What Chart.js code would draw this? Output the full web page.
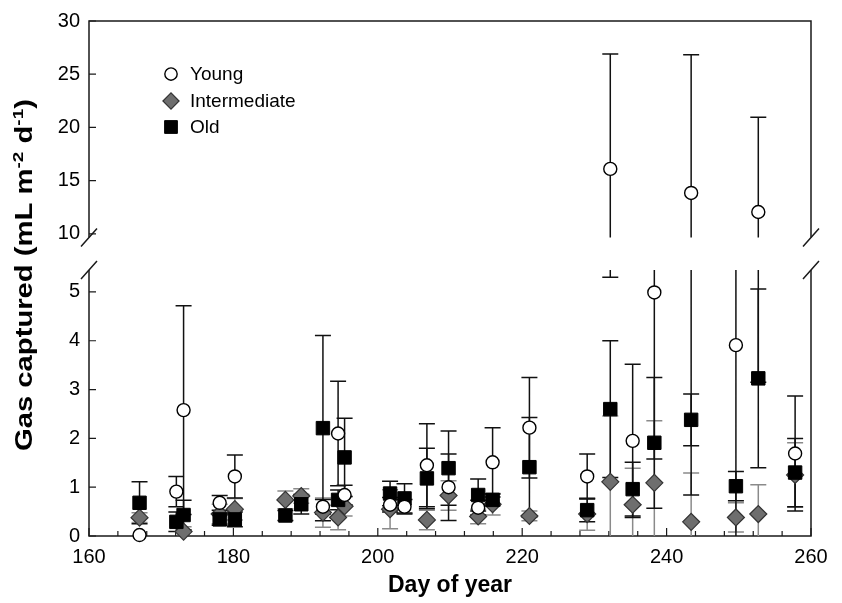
<!DOCTYPE html>
<html>
<head>
<meta charset="utf-8">
<title>Gas captured</title>
<script src="https://cdn.jsdelivr.net/npm/chart.js@4.4.1/dist/chart.umd.min.js"></script>
<style>
  html, body { margin: 0; padding: 0; background: #fff; }
  #wrap { width: 842px; height: 603px; position: relative; }
</style>
</head>
<body>
<div id="wrap"><canvas id="gas-chart"></canvas></div>
<script>
// Sampling days (day of year)
var days = [167, 172.1, 173.1, 178.1, 180.2, 187.2, 189.4, 192.4, 194.5, 195.4, 201.7, 203.7, 206.8,
            209.8, 213.9, 215.9, 221, 229, 232.2, 235.3, 238.3, 243.4, 249.6, 252.7, 257.8];

// Gas captured (mL m-2 d-1), mean and error per series, null = no point
var youngMean = [0.02, 0.91, 2.58, 0.68, 1.22, null, null, 0.60, 2.10, 0.84, 0.64, 0.60, 1.45,
                 1.00, 0.58, 1.51, 2.22, 1.22, 16.1, 1.95, 4.99, 13.84, 3.91, 12.05, 1.69];
var youngErr  = [0, 0.31, 2.14, 0.15, 0.44, null, null, 0.15, 1.07, 0.2, 0.15, 0.15, 0.85,
                 0.68, 0.15, 0.71, 1.03, 0.46, 10.8, 1.57, 3.41, 13.0, 4.2, 8.9, 1.18];

var interMean = [0.375, null, 0.09, 0.45, 0.55, 0.74, 0.82, 0.48, 0.38, 0.61, 0.55, null, 0.33,
                 0.83, 0.40, 0.65, 0.41, 0.45, 1.11, 0.64, 1.09, 0.29, 0.38, 0.45, 1.25];
var interErr  = [0.1, null, 0.1, 0.2, 0.22, 0.18, 0.15, 0.3, 0.25, 0.2, 0.4, null, 0.2,
                 0.3, 0.15, 0.22, 0.1, 0.33, 1.35, 0.75, 1.27, 1.0, 0.3, 0.6, 0.66];

var oldMean = [0.68, 0.29, 0.43, 0.34, 0.34, 0.42, 0.65, 2.21, 0.74, 1.61, 0.87, 0.77, 1.18,
               1.39, 0.84, 0.74, 1.41, 0.53, 2.6, 0.96, 1.91, 2.38, 1.02, 3.23, 1.3];
var oldErr  = [0.43, 0.2, 0.3, 0.12, 0.15, 0.1, 0.2, 1.9, 0.2, 0.8, 0.25, 0.3, 0.62,
               0.76, 0.33, 0.12, 1.02, 0.24, 1.4, 0.55, 1.34, 0.53, 0.3, 1.83, 0.7];

var seriesNames = ["Young", "Intermediate", "Old"];

// Tick labels
var xTicks = [160, 180, 200, 220, 240, 260];
var lowerTicks = [0, 1, 2, 3, 4, 5];
var upperTicks = [10, 15, 20, 25, 30];

// Broken y axis: lower panel 0..lowerTop, upper panel upperBottom..30
var lowerTop = 5.45;
var upperBottom = 9.65;
var upperScaleMin = 6.6;

var font = "'Liberation Sans', Arial, sans-serif";

// split a series between the two panels
function points(mean, upper) {
    var out = [];
    for (var i = 0; i < days.length; i++) {
        if (mean[i] === null) continue;
        if ((mean[i] > lowerTop) === upper) out.push({ x: days[i], y: mean[i] });
    }
    return out;
}

var youngStyle = { pointStyle: 'circle', pointRadius: 6.5, pointBackgroundColor: '#ffffff',
                   pointBorderColor: '#000000', pointBorderWidth: 1.4 };
var interStyle = { pointStyle: 'rectRot', pointRadius: 8.5, pointBackgroundColor: '#6e6e6e',
                   pointBorderColor: '#333333', pointBorderWidth: 1.2 };
var oldStyle   = { pointStyle: 'rect', pointRadius: 9.5, pointBackgroundColor: '#000000',
                   pointBorderColor: '#000000', pointBorderWidth: 1 };

function dataset(label, data, style, axis, order) {
    return Object.assign({ label: label, data: data, yAxisID: axis, order: order,
                           showLine: false, clip: false, pointHoverRadius: style.pointRadius }, style);
}

var chartData = {
    datasets: [
        dataset(seriesNames[0], points(youngMean, false), youngStyle, 'y', 0),
        dataset(seriesNames[0], points(youngMean, true), youngStyle, 'yUpper', 0),
        dataset(seriesNames[2], points(oldMean, false), oldStyle, 'y', 1),
        dataset(seriesNames[1], points(interMean, false), interStyle, 'y', 2)
    ]
};

// axes frame, break marks, error bars
var frameAndBars = {
    id: 'frameAndBars',
    beforeDatasetsDraw: function (chart) {
        var c = chart.ctx;
        var xs = chart.scales.x, lo = chart.scales.y, up = chart.scales.yUpper;
        var L = xs.left, R = xs.right;
        var y0 = lo.getPixelForValue(0), yLt = lo.getPixelForValue(lowerTop);
        var yUb = up.getPixelForValue(upperBottom), yTop = up.getPixelForValue(30);

        c.save();
        c.strokeStyle = '#1a1a1a';
        c.lineWidth = 1.5;
        c.lineCap = 'butt';
        c.beginPath();
        // bottom + lower sides
        c.moveTo(L, yLt); c.lineTo(L, y0); c.lineTo(R, y0); c.lineTo(R, yLt);
        // upper sides + top
        c.moveTo(L, yUb); c.lineTo(L, yTop); c.lineTo(R, yTop); c.lineTo(R, yUb);
        c.stroke();

        // break marks
        c.beginPath();
        [L, R].forEach(function (x) {
            [yLt, yUb].forEach(function (y) {
                c.moveTo(x - 8, y + 9); c.lineTo(x + 8, y - 9);
            });
        });
        c.stroke();

        // inward tick marks
        c.lineWidth = 1.2;
        c.beginPath();
        lowerTicks.forEach(function (v) { var y = lo.getPixelForValue(v); c.moveTo(L, y); c.lineTo(L + 7, y); });
        upperTicks.forEach(function (v) { var y = up.getPixelForValue(v); c.moveTo(L, y); c.lineTo(L + 7, y); });
        for (var d = xTicks[0]; d <= xTicks[xTicks.length - 1]; d += 4) {
            var x = xs.getPixelForValue(d);
            var len = xTicks.indexOf(d) >= 0 ? 8 : 5;
            c.moveTo(x, y0); c.lineTo(x, y0 - len);
        }
        c.stroke();

        // error bars
        function cap(x, y) { c.moveTo(x - 8, y); c.lineTo(x + 8, y); }
        function bars(mean, err, color) {
            c.strokeStyle = color;
            c.lineWidth = 1.5;
            c.beginPath();
            for (var i = 0; i < days.length; i++) {
                if (mean[i] === null || !err[i]) continue;
                var x = xs.getPixelForValue(days[i]);
                var low = Math.max(mean[i] - err[i], 0), high = mean[i] + err[i];
                if (low < lowerTop) {
                    var a = lo.getPixelForValue(low), b = lo.getPixelForValue(Math.min(high, lowerTop));
                    c.moveTo(x, a); c.lineTo(x, b);
                    if (mean[i] - err[i] > 0) cap(x, a);
                    if (high <= lowerTop) cap(x, b);
                }
                if (high > upperBottom) {
                    var a2 = up.getPixelForValue(Math.max(low, upperBottom)), b2 = up.getPixelForValue(high);
                    c.moveTo(x, a2); c.lineTo(x, b2);
                    if (low >= upperBottom) cap(x, a2);
                    cap(x, b2);
                }
            }
            c.stroke();
        }
        bars(interMean, interErr, '#8a8a8a');
        bars(oldMean, oldErr, '#111111');
        bars(youngMean, youngErr, '#111111');
        c.restore();
    },
    afterDraw: function (chart) {
        var c = chart.ctx;
        c.save();
        // legend
        var styles = [youngStyle, interStyle, oldStyle];
        var rows = [74, 101, 127];
        c.font = "19px " + font;
        c.textBaseline = 'middle';
        c.textAlign = 'left';
        for (var i = 0; i < 3; i++) {
            var s = styles[i];
            c.fillStyle = s.pointBackgroundColor;
            c.strokeStyle = s.pointBorderColor;
            c.lineWidth = s.pointBorderWidth;
            Chart.helpers.drawPoint(c, { pointStyle: s.pointStyle, radius: s.pointRadius * 0.95,
                                         rotation: 0, borderWidth: s.pointBorderWidth }, 171, rows[i]);
            c.fillStyle = '#000';
            c.fillText(seriesNames[i], 190, rows[i] + 1);
        }

        // y axis title with superscripts (the figure's title runs longer than the font, so stretch it)
        var parts = [["Gas captured (mL m", false], ["-2", true], [" d", false], ["-1", true], [")", false]];
        var big = "bold 23px " + font, small = "bold 15px " + font;
        var total = 0;
        parts.forEach(function (p) { c.font = p[1] ? small : big; total += c.measureText(p[0]).width; });
        c.translate(32, 275);
        c.rotate(-Math.PI / 2);
        c.scale(1.27, 1);
        c.fillStyle = '#000';
        c.textBaseline = 'alphabetic';
        var x = -total / 2;
        parts.forEach(function (p) {
            c.font = p[1] ? small : big;
            c.fillText(p[0], x, p[1] ? -9 : 0);
            x += c.measureText(p[0]).width;
        });
        c.restore();
    }
};

var tickFont = { family: font, size: 20 };

var chartOptions = {
    responsive: true,
    maintainAspectRatio: false,
    animation: false,
    layout: { padding: { top: 21, right: 31, left: 0, bottom: 0 } },
    plugins: { legend: { display: false }, tooltip: { enabled: false } },
    scales: {
        y: {
            type: 'linear', position: 'left', stack: 'gas', stackWeight: 266,
            min: 0, max: lowerTop,
            grid: { display: false, drawTicks: false }, border: { display: false },
            ticks: { font: tickFont, color: '#000', padding: 9 },
            afterBuildTicks: function (s) { s.ticks = lowerTicks.map(function (v) { return { value: v }; }); },
            afterFit: function (s) { s.width = 89; }
        },
        yUpper: {
            type: 'linear', position: 'left', stack: 'gas', stackWeight: 249,
            min: upperScaleMin, max: 30,
            grid: { display: false, drawTicks: false }, border: { display: false },
            ticks: { font: tickFont, color: '#000', padding: 9 },
            afterBuildTicks: function (s) { s.ticks = upperTicks.map(function (v) { return { value: v }; }); },
            afterFit: function (s) { s.width = 89; }
        },
        x: {
            type: 'linear', position: 'bottom', min: 160, max: 260,
            grid: { display: false, drawTicks: false }, border: { display: false },
            ticks: { font: tickFont, color: '#000', padding: 9, maxRotation: 0 },
            afterBuildTicks: function (s) { s.ticks = xTicks.map(function (v) { return { value: v }; }); },
            title: { display: true, text: 'Day of year', color: '#000',
                     font: { family: font, size: 23, weight: 'bold' }, padding: { top: 2, bottom: 4 } },
            afterFit: function (s) { s.height = 67; }
        }
    }
};

var gasChart = new Chart(document.getElementById('gas-chart'), {
    type: 'scatter',
    data: chartData,
    options: chartOptions,
    plugins: [frameAndBars]
});
</script>
</body>
</html>
